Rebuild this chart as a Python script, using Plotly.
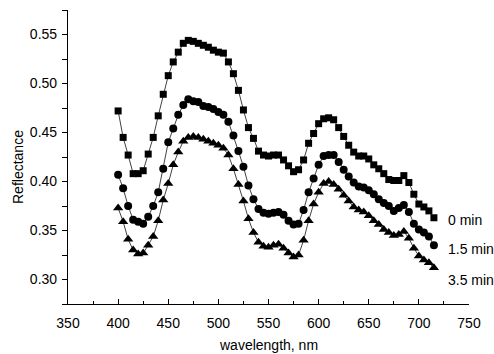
import plotly.graph_objects as go

# Wavelength grid (nm)
wavelength = [400, 405, 410, 415, 420, 425, 430, 435, 440, 445,
              450, 455, 460, 465, 470, 475, 480, 485, 490, 495,
              500, 505, 510, 515, 520, 525, 530, 535, 540, 545,
              550, 555, 560, 565, 570, 575, 580, 585, 590, 595,
              600, 605, 610, 615, 620, 625, 630, 635, 640, 645,
              650, 655, 660, 665, 670, 675, 680, 685, 690, 695,
              700, 705, 710, 715]

# Reflectance after 0 min
refl_0min = [0.472, 0.445, 0.427, 0.408, 0.408, 0.411, 0.428, 0.445, 0.467, 0.489,
             0.508, 0.522, 0.532, 0.541, 0.544, 0.543, 0.541, 0.539, 0.537, 0.534,
             0.532, 0.531, 0.522, 0.510, 0.493, 0.473, 0.455, 0.444, 0.431, 0.427,
             0.426, 0.427, 0.427, 0.422, 0.416, 0.410, 0.412, 0.422, 0.439, 0.449,
             0.459, 0.464, 0.465, 0.463, 0.455, 0.446, 0.437, 0.430, 0.426, 0.426,
             0.423, 0.417, 0.413, 0.408, 0.402, 0.401, 0.401, 0.406, 0.399, 0.387,
             0.377, 0.374, 0.370, 0.363]

# Reflectance after 1.5 min
refl_15min = [0.407, 0.393, 0.375, 0.361, 0.359, 0.357, 0.364, 0.375, 0.389, 0.413,
              0.440, 0.454, 0.468, 0.478, 0.484, 0.482, 0.481, 0.477, 0.476, 0.474,
              0.471, 0.468, 0.461, 0.447, 0.431, 0.415, 0.396, 0.382, 0.372, 0.368,
              0.367, 0.368, 0.369, 0.366, 0.360, 0.356, 0.357, 0.371, 0.389, 0.403,
              0.417, 0.426, 0.427, 0.427, 0.420, 0.412, 0.405, 0.399, 0.395, 0.394,
              0.391, 0.387, 0.382, 0.378, 0.375, 0.370, 0.373, 0.376, 0.369, 0.357,
              0.351, 0.348, 0.344, 0.335]

# Reflectance after 3.5 min
refl_35min = [0.373, 0.359, 0.341, 0.330, 0.326, 0.327, 0.335, 0.344, 0.360, 0.381,
              0.398, 0.417, 0.430, 0.441, 0.445, 0.446, 0.445, 0.443, 0.441, 0.439,
              0.437, 0.434, 0.427, 0.413, 0.397, 0.380, 0.362, 0.348, 0.338, 0.334,
              0.333, 0.335, 0.336, 0.332, 0.327, 0.323, 0.325, 0.340, 0.360, 0.377,
              0.389, 0.398, 0.400, 0.397, 0.392, 0.386, 0.380, 0.374, 0.371, 0.369,
              0.365, 0.360, 0.356, 0.351, 0.348, 0.345, 0.346, 0.349, 0.342, 0.332,
              0.324, 0.320, 0.317, 0.312]

series_names = ["0 min", "1.5 min", "3.5 min"]
series_values = [refl_0min, refl_15min, refl_35min]
series_symbols = ["square", "circle", "triangle-up"]
series_sizes = [7, 8, 9]
label_y = [0.361, 0.3315, 0.299]

FONT = "Liberation Sans, Arial, sans-serif"

fig = go.Figure()
for name, vals, sym, sz in zip(series_names, series_values, series_symbols, series_sizes):
    fig.add_trace(go.Scatter(
        x=wavelength, y=vals, name=name, mode="lines+markers",
        line=dict(color="#111111", width=0.8),
        marker=dict(symbol=sym, size=sz, color="#000000", line=dict(width=0)),
        showlegend=False,
    ))

# Series labels at the right end of the curves
for name, ly in zip(series_names, label_y):
    fig.add_annotation(x=727, y=ly, xref="x", yref="y", text=name,
                       showarrow=False, xanchor="left", yanchor="middle",
                       font=dict(family=FONT, size=14, color="#000000"))

# Axis titles
fig.add_annotation(x=0.5, y=0, xref="paper", yref="paper", yshift=-41,
                   text="wavelength, nm", showarrow=False,
                   xanchor="center", yanchor="middle",
                   font=dict(family=FONT, size=14, color="#000000"))
fig.add_annotation(x=0, y=0.466, xref="paper", yref="paper", xshift=-50,
                   text="Reflectance", showarrow=False, textangle=-90,
                   xanchor="center", yanchor="middle",
                   font=dict(family=FONT, size=14, color="#000000"))

fig.update_layout(
    width=494, height=354,
    margin=dict(l=68, r=25, t=10, b=50),
    paper_bgcolor="white", plot_bgcolor="white",
    font=dict(family=FONT, size=14, color="#000000"),
)

fig.update_xaxes(
    range=[350, 750], tickvals=[350, 400, 450, 500, 550, 600, 650, 700, 750],
    ticks="inside", ticklen=5, tickwidth=1, tickcolor="#000",
    minor=dict(dtick=25, ticks="inside", ticklen=3, tickwidth=1, tickcolor="#000"),
    showline=True, linecolor="#000", linewidth=1.2, showgrid=False, zeroline=False,
    automargin=False, tickfont=dict(family=FONT, size=14), ticklabelstandoff=6,
)
fig.update_yaxes(
    range=[0.275, 0.575], tickvals=[0.30, 0.35, 0.40, 0.45, 0.50, 0.55],
    tickformat=".2f",
    ticks="outside", ticklen=5, tickwidth=1, tickcolor="#000",
    minor=dict(dtick=0.025, tick0=0.275, ticks="outside", ticklen=5, tickwidth=1, tickcolor="#000"),
    showline=True, linecolor="#000", linewidth=1.2, showgrid=False, zeroline=False,
    automargin=False, tickfont=dict(family=FONT, size=14), ticklabelstandoff=2,
)

fig.write_html("out.html")
